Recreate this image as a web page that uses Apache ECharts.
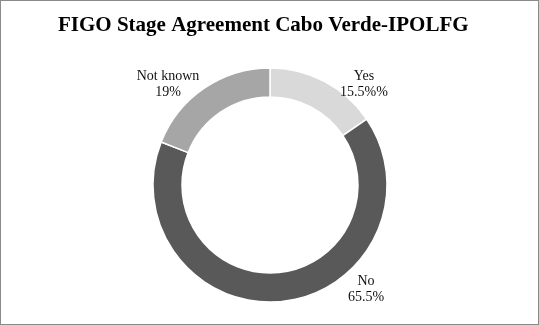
<!DOCTYPE html>
<html><head><meta charset="utf-8">
<script src="https://cdn.jsdelivr.net/npm/echarts@6/dist/echarts.min.js"></script>
<style>
html,body{margin:0;padding:0;background:#fff;}
#c{position:absolute;left:0;top:0;width:537px;height:323px;border:1px solid #8a8a8a;}
</style></head>
<body><div id="c"></div>
<script>
const categories = ['Yes', 'No', 'Not known'];
const values = [15.5, 65.5, 19];
const valueLabels = ['15.5%%', '65.5%', '19%'];
const colors = ['#d9d9d9', '#595959', '#a6a6a6'];
const labelPos = [[363, 83], [365, 288], [167, 83]];

const chart = echarts.init(document.getElementById('c'));
chart.setOption({
  animation: false,
  title: {
    text: 'FIGO Stage Agreement Cabo Verde-IPOLFG',
    left: 52, top: 9,
    textStyle: {fontFamily: 'Liberation Serif', fontWeight: 'bold', fontSize: 21, color: '#000'}
  },
  series: [{
    type: 'pie',
    center: [269, 184],
    radius: [88, 117],
    startAngle: 90,
    clockwise: true,
    data: categories.map((c, i) => ({name: c, value: values[i], itemStyle: {color: colors[i]}})),
    itemStyle: {borderColor: '#fff', borderWidth: 1.5},
    label: {
      show: true, position: 'outside',
      formatter: p => p.name + '\n' + valueLabels[p.dataIndex],
      fontFamily: 'Liberation Serif', fontSize: 14, color: '#111', lineHeight: 16, align: 'center'
    },
    labelLine: {show: false},
    labelLayout: p => ({x: labelPos[p.dataIndex][0], y: labelPos[p.dataIndex][1], align: 'center', verticalAlign: 'middle'}),
    emphasis: {disabled: true}
  }]
});
</script></body></html>
